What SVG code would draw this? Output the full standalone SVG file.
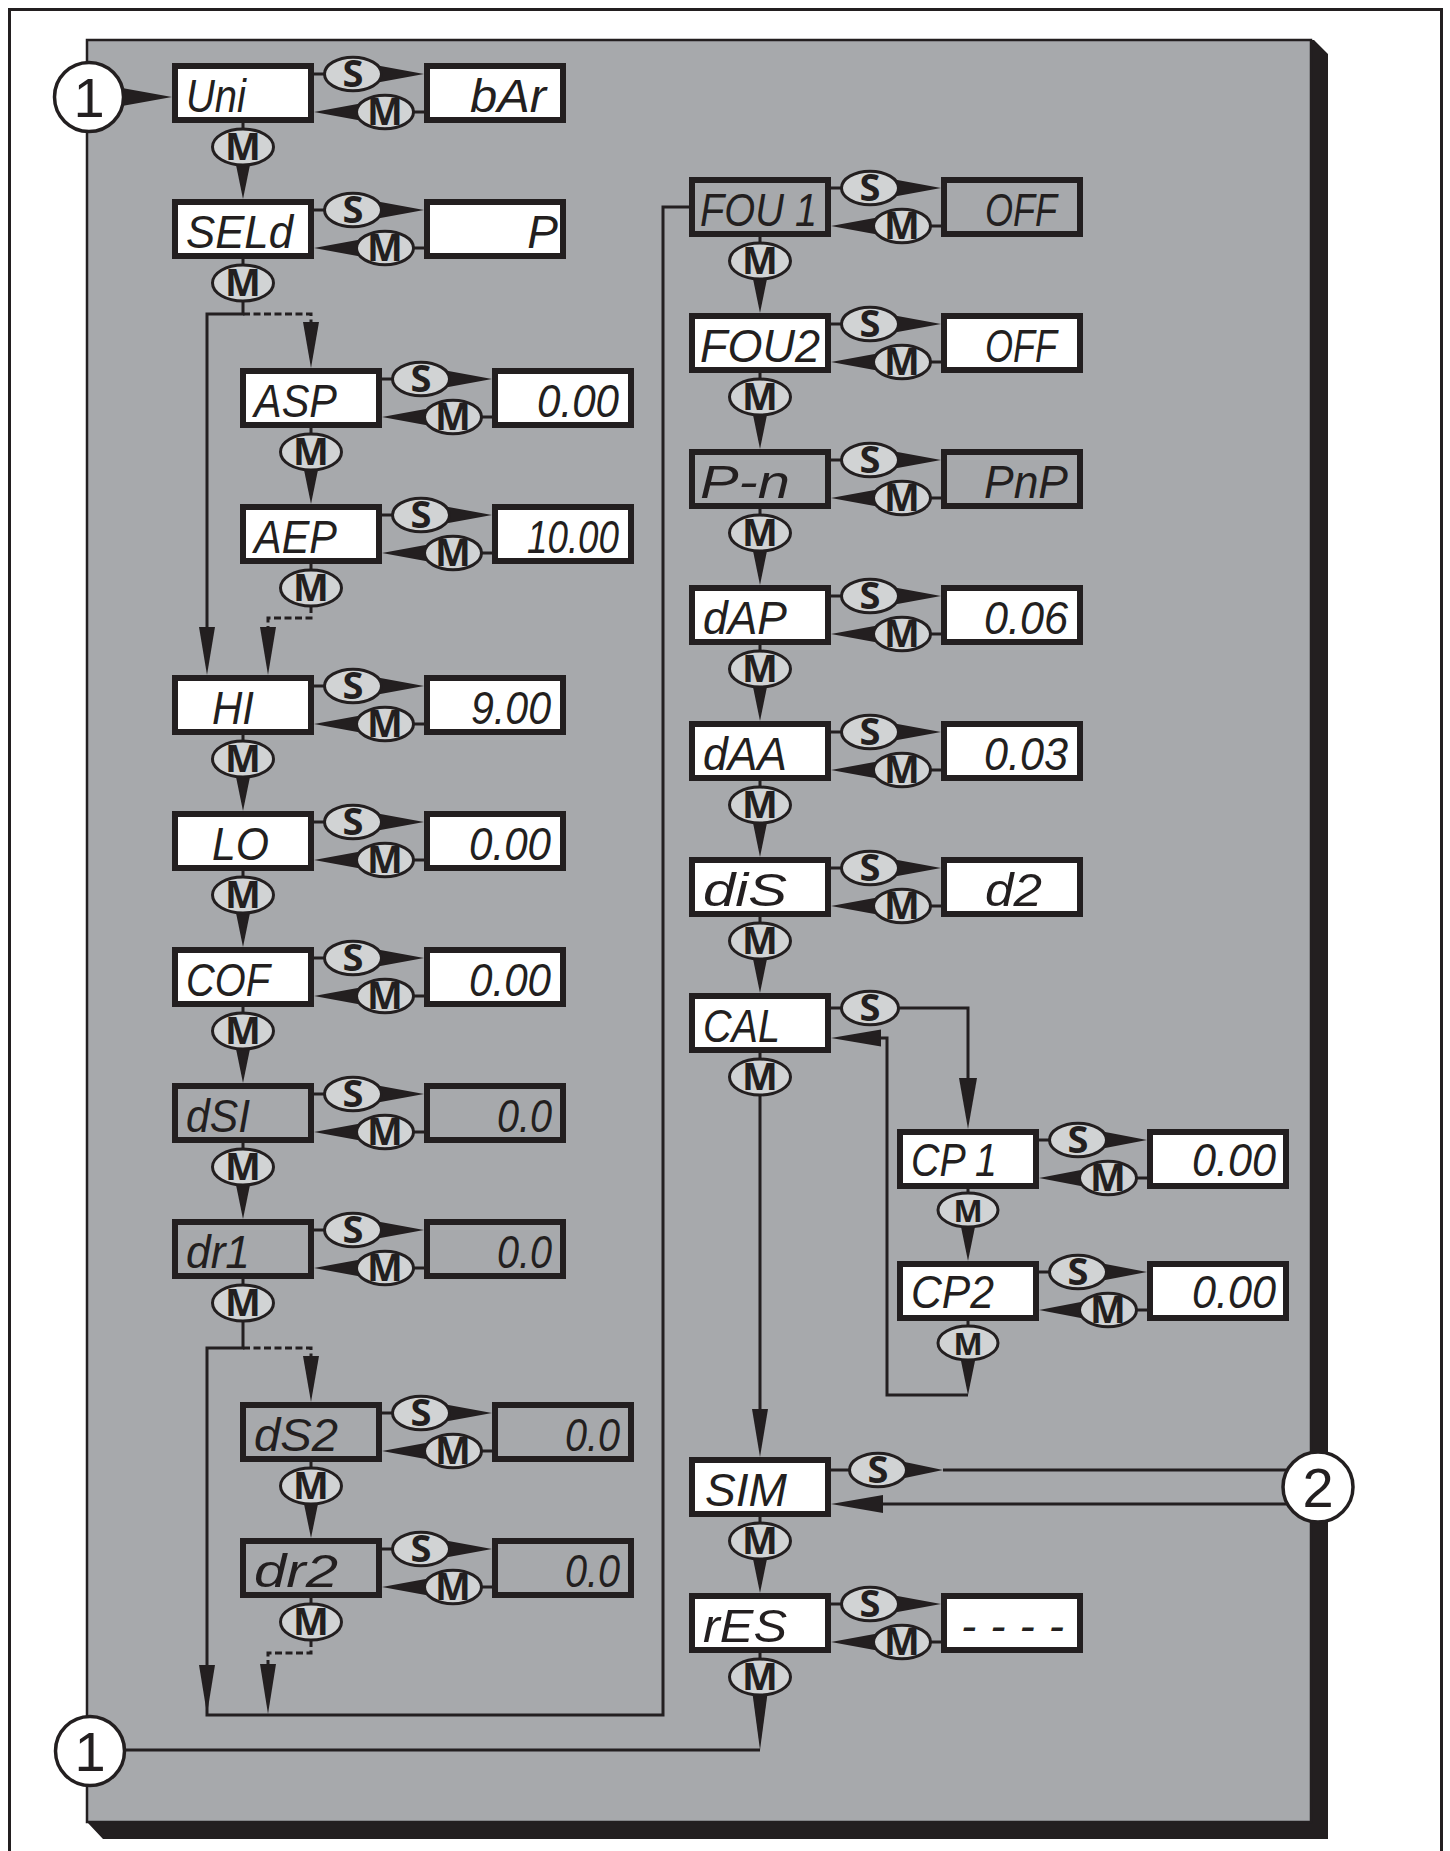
<svg xmlns="http://www.w3.org/2000/svg" width="1450" height="1851" viewBox="0 0 1450 1851">
<style>
.frame{fill:none;stroke:#231f20;stroke-width:3}
.panel{fill:#a7a9ac;stroke:#231f20;stroke-width:2.5}
.shadow{fill:#231f20}
.box{stroke:#231f20;stroke-width:6}
.w{fill:#ffffff}
.g{fill:#a7a9ac}
.disp{font-family:"Liberation Sans",Arial,sans-serif;font-style:italic;font-size:46px;fill:#231f20}
.val{text-anchor:end}
.ln{fill:none;stroke:#231f20;stroke-width:3}
.dot{stroke-dasharray:7 3.5}
.ar{fill:#231f20}
.btn{fill:#d1d3d4;stroke:#231f20;stroke-width:3}
.bt{font-family:"Open Sans","Liberation Sans",Arial,sans-serif;font-weight:700;font-size:38px;text-anchor:middle;fill:#231f20}
.bts{font-size:31px}
.circ{fill:#ffffff;stroke:#231f20;stroke-width:3.5}
.num{font-family:"Liberation Sans",Arial,sans-serif;font-size:56px;text-anchor:middle;fill:#231f20}
</style>

<rect class="frame" x="9.5" y="9.5" width="1432" height="1870"/>
<polygon class="shadow" points="1311,40 1314,40 1328,54 1328,1839 103,1839 87,1822 1311,1822"/>
<rect class="panel" x="87" y="40" width="1224" height="1782"/>

<g id="connectors">
  <polygon class="ar" points="122,88 122,106 172,97"/>
  <path class="ln" d="M314,74H353M385,112H424M314,210H353M385,248H424M314,686H353M385,724H424M314,822H353M385,860H424M314,958H353M385,996H424M314,1094H353M385,1132H424M314,1230H353M385,1268H424"/>
  <polygon class="ar" points="375,65 375,83 424,74"/><polygon class="ar" points="363,103 363,121 314,112"/>
  <polygon class="ar" points="375,201 375,219 424,210"/><polygon class="ar" points="363,239 363,257 314,248"/>
  <polygon class="ar" points="375,677 375,695 424,686"/><polygon class="ar" points="363,715 363,733 314,724"/>
  <polygon class="ar" points="375,813 375,831 424,822"/><polygon class="ar" points="363,851 363,869 314,860"/>
  <polygon class="ar" points="375,949 375,967 424,958"/><polygon class="ar" points="363,987 363,1005 314,996"/>
  <polygon class="ar" points="375,1085 375,1103 424,1094"/><polygon class="ar" points="363,1123 363,1141 314,1132"/>
  <polygon class="ar" points="375,1221 375,1239 424,1230"/><polygon class="ar" points="363,1259 363,1277 314,1268"/>
  <path class="ln" d="M382,379H421M453,417H492M382,515H421M453,553H492M382,1413H421M453,1451H492M382,1549H421M453,1587H492"/>
  <polygon class="ar" points="443,370 443,388 492,379"/><polygon class="ar" points="431,408 431,426 382,417"/>
  <polygon class="ar" points="443,506 443,524 492,515"/><polygon class="ar" points="431,544 431,562 382,553"/>
  <polygon class="ar" points="443,1404 443,1422 492,1413"/><polygon class="ar" points="431,1442 431,1460 382,1451"/>
  <polygon class="ar" points="443,1540 443,1558 492,1549"/><polygon class="ar" points="431,1578 431,1596 382,1587"/>
  <path class="ln" d="M831,188H870M902,226H941M831,324H870M902,362H941M831,460H870M902,498H941M831,596H870M902,634H941M831,732H870M902,770H941M831,868H870M902,906H941M831,1604H870M902,1642H941"/>
  <polygon class="ar" points="892,179 892,197 941,188"/><polygon class="ar" points="880,217 880,235 831,226"/>
  <polygon class="ar" points="892,315 892,333 941,324"/><polygon class="ar" points="880,353 880,371 831,362"/>
  <polygon class="ar" points="892,451 892,469 941,460"/><polygon class="ar" points="880,489 880,507 831,498"/>
  <polygon class="ar" points="892,587 892,605 941,596"/><polygon class="ar" points="880,625 880,643 831,634"/>
  <polygon class="ar" points="892,723 892,741 941,732"/><polygon class="ar" points="880,761 880,779 831,770"/>
  <polygon class="ar" points="892,859 892,877 941,868"/><polygon class="ar" points="880,897 880,915 831,906"/>
  <polygon class="ar" points="892,1595 892,1613 941,1604"/><polygon class="ar" points="880,1633 880,1651 831,1642"/>
  <path class="ln" d="M1039,1140H1078M1108,1178H1147M1039,1272H1078M1108,1310H1147"/>
  <polygon class="ar" points="1100,1131 1100,1149 1147,1140"/><polygon class="ar" points="1086,1169 1086,1187 1039,1178"/>
  <polygon class="ar" points="1100,1263 1100,1281 1147,1272"/><polygon class="ar" points="1086,1301 1086,1319 1039,1310"/>

  <path class="ln" d="M243,123V147M243,735V759M243,871V895M243,1007V1031M243,1143V1167M311,428V452M311,1462V1486"/>
  <polygon class="ar" points="235,160 251,160 243,199"/>
  <polygon class="ar" points="235,772 251,772 243,811"/>
  <polygon class="ar" points="235,908 251,908 243,947"/>
  <polygon class="ar" points="235,1044 251,1044 243,1083"/>
  <polygon class="ar" points="235,1180 251,1180 243,1219"/>
  <polygon class="ar" points="303,465 319,465 311,504"/>
  <polygon class="ar" points="303,1499 319,1499 311,1538"/>
  <path class="ln" d="M243,259V314H207V640"/>
  <polygon class="ar" points="199,627 215,627 207,675"/>
  <path class="ln dot" d="M243,314H311V326"/>
  <polygon class="ar" points="303,322 319,322 311,368"/>
  <path class="ln" d="M311,564V606"/>
  <path class="ln dot" d="M311,606V618H268V630"/>
  <polygon class="ar" points="260,627 276,627 268,675"/>
  <path class="ln" d="M243,1279V1348H207V1715H663V207H689"/>
  <polygon class="ar" points="199,1665 215,1665 207,1714"/>
  <path class="ln dot" d="M243,1348H311V1360"/>
  <polygon class="ar" points="303,1356 319,1356 311,1402"/>
  <path class="ln" d="M311,1598V1640"/>
  <path class="ln dot" d="M311,1640V1653H268V1666"/>
  <polygon class="ar" points="260,1664 276,1664 268,1714"/>

  <path class="ln" d="M760,237V261M760,373V397M760,509V533M760,645V669M760,781V805M760,917V941M760,1053V1420M760,1517V1541M760,1653V1677"/>
  <polygon class="ar" points="752,274 768,274 760,313"/>
  <polygon class="ar" points="752,410 768,410 760,449"/>
  <polygon class="ar" points="752,546 768,546 760,585"/>
  <polygon class="ar" points="752,682 768,682 760,721"/>
  <polygon class="ar" points="752,818 768,818 760,857"/>
  <polygon class="ar" points="752,954 768,954 760,993"/>
  <polygon class="ar" points="752,1409 768,1409 760,1457"/>
  <polygon class="ar" points="752,1554 768,1554 760,1593"/>
  <polygon class="ar" points="752,1690 768,1690 760,1750"/>
  <path class="ln" d="M100,1750H760"/>

  <path class="ln" d="M831,1008H870M870,1008H968V1085"/>
  <polygon class="ar" points="959,1078 977,1078 968,1129"/>
  <path class="ln" d="M968,1189V1210"/>
  <polygon class="ar" points="960,1222 976,1222 968,1261"/>
  <path class="ln" d="M968,1321V1343"/>
  <polygon class="ar" points="960,1356 976,1356 968,1395"/>
  <path class="ln" d="M968,1395H887V1038H878"/>
  <polygon class="ar" points="881,1029.5 881,1046.5 831,1038"/>

  <path class="ln" d="M831,1470H878M943,1470H1300M1300,1504H878"/>
  <polygon class="ar" points="900,1461 900,1479 943,1470"/>
  <polygon class="ar" points="883,1495 883,1513 831,1504"/>
</g>

<g id="nodes">
  <g id="n-uni"><rect class="box w" x="175" y="66" width="136" height="54"/><text class="disp" x="186" y="112" textLength="60" lengthAdjust="spacingAndGlyphs">Uni</text></g>
  <g id="v-uni"><rect class="box w" x="427" y="66" width="136" height="54"/><text class="disp val" x="546" y="112" textLength="76" lengthAdjust="spacingAndGlyphs">bAr</text></g>
  <g id="n-seld"><rect class="box w" x="175" y="202" width="136" height="54"/><text class="disp" x="186" y="248" textLength="107" lengthAdjust="spacingAndGlyphs">SELd</text></g>
  <g id="v-seld"><rect class="box w" x="427" y="202" width="136" height="54"/><text class="disp val" x="558" y="248">P</text></g>
  <g id="n-asp"><rect class="box w" x="243" y="371" width="136" height="54"/><text class="disp" x="254" y="417" textLength="83" lengthAdjust="spacingAndGlyphs">ASP</text></g>
  <g id="v-asp"><rect class="box w" x="495" y="371" width="136" height="54"/><text class="disp val" x="619" y="417" textLength="82" lengthAdjust="spacingAndGlyphs">0.00</text></g>
  <g id="n-aep"><rect class="box w" x="243" y="507" width="136" height="54"/><text class="disp" x="254" y="553" textLength="83" lengthAdjust="spacingAndGlyphs">AEP</text></g>
  <g id="v-aep"><rect class="box w" x="495" y="507" width="136" height="54"/><text class="disp val" x="619" y="553" textLength="92" lengthAdjust="spacingAndGlyphs">10.00</text></g>
  <g id="n-hi"><rect class="box w" x="175" y="678" width="136" height="54"/><text class="disp" x="212" y="724" textLength="42" lengthAdjust="spacingAndGlyphs">HI</text></g>
  <g id="v-hi"><rect class="box w" x="427" y="678" width="136" height="54"/><text class="disp val" x="551" y="724" textLength="80" lengthAdjust="spacingAndGlyphs">9.00</text></g>
  <g id="n-lo"><rect class="box w" x="175" y="814" width="136" height="54"/><text class="disp" x="212" y="860" textLength="57" lengthAdjust="spacingAndGlyphs">LO</text></g>
  <g id="v-lo"><rect class="box w" x="427" y="814" width="136" height="54"/><text class="disp val" x="551" y="860" textLength="82" lengthAdjust="spacingAndGlyphs">0.00</text></g>
  <g id="n-cof"><rect class="box w" x="175" y="950" width="136" height="54"/><text class="disp" x="186" y="996" textLength="84" lengthAdjust="spacingAndGlyphs">COF</text></g>
  <g id="v-cof"><rect class="box w" x="427" y="950" width="136" height="54"/><text class="disp val" x="551" y="996" textLength="82" lengthAdjust="spacingAndGlyphs">0.00</text></g>
  <g id="n-ds1"><rect class="box g" x="175" y="1086" width="136" height="54"/><text class="disp" x="186" y="1132" textLength="64" lengthAdjust="spacingAndGlyphs">dSI</text></g>
  <g id="v-ds1"><rect class="box g" x="427" y="1086" width="136" height="54"/><text class="disp val" x="552" y="1132" textLength="55" lengthAdjust="spacingAndGlyphs">0.0</text></g>
  <g id="n-dr1"><rect class="box g" x="175" y="1222" width="136" height="54"/><text class="disp" x="186" y="1268" textLength="64" lengthAdjust="spacingAndGlyphs">dr1</text></g>
  <g id="v-dr1"><rect class="box g" x="427" y="1222" width="136" height="54"/><text class="disp val" x="552" y="1268" textLength="55" lengthAdjust="spacingAndGlyphs">0.0</text></g>
  <g id="n-ds2"><rect class="box g" x="243" y="1405" width="136" height="54"/><text class="disp" x="254" y="1451" textLength="84" lengthAdjust="spacingAndGlyphs">dS2</text></g>
  <g id="v-ds2"><rect class="box g" x="495" y="1405" width="136" height="54"/><text class="disp val" x="620" y="1451" textLength="55" lengthAdjust="spacingAndGlyphs">0.0</text></g>
  <g id="n-dr2"><rect class="box g" x="243" y="1541" width="136" height="54"/><text class="disp" x="254" y="1587" textLength="84" lengthAdjust="spacingAndGlyphs">dr2</text></g>
  <g id="v-dr2"><rect class="box g" x="495" y="1541" width="136" height="54"/><text class="disp val" x="620" y="1587" textLength="55" lengthAdjust="spacingAndGlyphs">0.0</text></g>

  <g id="n-fou1"><rect class="box g" x="692" y="180" width="136" height="54"/><text class="disp" x="700" y="226" textLength="117" lengthAdjust="spacingAndGlyphs">FOU 1</text></g>
  <g id="v-fou1"><rect class="box g" x="944" y="180" width="136" height="54"/><text class="disp val" x="1057" y="226" textLength="72" lengthAdjust="spacingAndGlyphs">OFF</text></g>
  <g id="n-fou2"><rect class="box w" x="692" y="316" width="136" height="54"/><text class="disp" x="700" y="362" textLength="120" lengthAdjust="spacingAndGlyphs">FOU2</text></g>
  <g id="v-fou2"><rect class="box w" x="944" y="316" width="136" height="54"/><text class="disp val" x="1057" y="362" textLength="72" lengthAdjust="spacingAndGlyphs">OFF</text></g>
  <g id="n-pn"><rect class="box g" x="692" y="452" width="136" height="54"/><text class="disp" x="700" y="498" textLength="90" lengthAdjust="spacingAndGlyphs">P-n</text></g>
  <g id="v-pn"><rect class="box g" x="944" y="452" width="136" height="54"/><text class="disp val" x="1068" y="498" textLength="84" lengthAdjust="spacingAndGlyphs">PnP</text></g>
  <g id="n-dap"><rect class="box w" x="692" y="588" width="136" height="54"/><text class="disp" x="703" y="634" textLength="84" lengthAdjust="spacingAndGlyphs">dAP</text></g>
  <g id="v-dap"><rect class="box w" x="944" y="588" width="136" height="54"/><text class="disp val" x="1068" y="634" textLength="84" lengthAdjust="spacingAndGlyphs">0.06</text></g>
  <g id="n-daa"><rect class="box w" x="692" y="724" width="136" height="54"/><text class="disp" x="703" y="770" textLength="84" lengthAdjust="spacingAndGlyphs">dAA</text></g>
  <g id="v-daa"><rect class="box w" x="944" y="724" width="136" height="54"/><text class="disp val" x="1068" y="770" textLength="84" lengthAdjust="spacingAndGlyphs">0.03</text></g>
  <g id="n-dis"><rect class="box w" x="692" y="860" width="136" height="54"/><text class="disp" x="703" y="906" textLength="84" lengthAdjust="spacingAndGlyphs">diS</text></g>
  <g id="v-dis"><rect class="box w" x="944" y="860" width="136" height="54"/><text class="disp val" x="1042" y="906" textLength="57" lengthAdjust="spacingAndGlyphs">d2</text></g>
  <g id="n-cal"><rect class="box w" x="692" y="996" width="136" height="54"/><text class="disp" x="703" y="1042" textLength="77" lengthAdjust="spacingAndGlyphs">CAL</text></g>
  <g id="n-cp1"><rect class="box w" x="900" y="1132" width="136" height="54"/><text class="disp" x="911" y="1176" textLength="86" lengthAdjust="spacingAndGlyphs">CP 1</text></g>
  <g id="v-cp1"><rect class="box w" x="1150" y="1132" width="136" height="54"/><text class="disp val" x="1276" y="1176" textLength="84" lengthAdjust="spacingAndGlyphs">0.00</text></g>
  <g id="n-cp2"><rect class="box w" x="900" y="1264" width="136" height="54"/><text class="disp" x="911" y="1308" textLength="83" lengthAdjust="spacingAndGlyphs">CP2</text></g>
  <g id="v-cp2"><rect class="box w" x="1150" y="1264" width="136" height="54"/><text class="disp val" x="1276" y="1308" textLength="84" lengthAdjust="spacingAndGlyphs">0.00</text></g>
  <g id="n-sim"><rect class="box w" x="692" y="1460" width="136" height="54"/><text class="disp" x="705" y="1506" textLength="82" lengthAdjust="spacingAndGlyphs">SIM</text></g>
  <g id="n-res"><rect class="box w" x="692" y="1596" width="136" height="54"/><text class="disp" x="703" y="1642" textLength="84" lengthAdjust="spacingAndGlyphs">rES</text></g>
  <g id="v-res"><rect class="box w" x="944" y="1596" width="136" height="54"/><text class="disp val" x="1064" y="1642" textLength="103" lengthAdjust="spacing">----</text></g>
</g>

<g id="buttons">
  <g><ellipse class="btn" cx="353" cy="74" rx="28.5" ry="16.8"/><text class="bt" x="353" y="87">S</text><ellipse class="btn" cx="385" cy="112" rx="28.5" ry="16.8"/><text class="bt" x="385" y="125">M</text></g>
  <g><ellipse class="btn" cx="353" cy="210" rx="28.5" ry="16.8"/><text class="bt" x="353" y="223">S</text><ellipse class="btn" cx="385" cy="248" rx="28.5" ry="16.8"/><text class="bt" x="385" y="261">M</text></g>
  <g><ellipse class="btn" cx="353" cy="686" rx="28.5" ry="16.8"/><text class="bt" x="353" y="699">S</text><ellipse class="btn" cx="385" cy="724" rx="28.5" ry="16.8"/><text class="bt" x="385" y="737">M</text></g>
  <g><ellipse class="btn" cx="353" cy="822" rx="28.5" ry="16.8"/><text class="bt" x="353" y="835">S</text><ellipse class="btn" cx="385" cy="860" rx="28.5" ry="16.8"/><text class="bt" x="385" y="873">M</text></g>
  <g><ellipse class="btn" cx="353" cy="958" rx="28.5" ry="16.8"/><text class="bt" x="353" y="971">S</text><ellipse class="btn" cx="385" cy="996" rx="28.5" ry="16.8"/><text class="bt" x="385" y="1009">M</text></g>
  <g><ellipse class="btn" cx="353" cy="1094" rx="28.5" ry="16.8"/><text class="bt" x="353" y="1107">S</text><ellipse class="btn" cx="385" cy="1132" rx="28.5" ry="16.8"/><text class="bt" x="385" y="1145">M</text></g>
  <g><ellipse class="btn" cx="353" cy="1230" rx="28.5" ry="16.8"/><text class="bt" x="353" y="1243">S</text><ellipse class="btn" cx="385" cy="1268" rx="28.5" ry="16.8"/><text class="bt" x="385" y="1281">M</text></g>
  <g><ellipse class="btn" cx="421" cy="379" rx="28.5" ry="16.8"/><text class="bt" x="421" y="392">S</text><ellipse class="btn" cx="453" cy="417" rx="28.5" ry="16.8"/><text class="bt" x="453" y="430">M</text></g>
  <g><ellipse class="btn" cx="421" cy="515" rx="28.5" ry="16.8"/><text class="bt" x="421" y="528">S</text><ellipse class="btn" cx="453" cy="553" rx="28.5" ry="16.8"/><text class="bt" x="453" y="566">M</text></g>
  <g><ellipse class="btn" cx="421" cy="1413" rx="28.5" ry="16.8"/><text class="bt" x="421" y="1426">S</text><ellipse class="btn" cx="453" cy="1451" rx="28.5" ry="16.8"/><text class="bt" x="453" y="1464">M</text></g>
  <g><ellipse class="btn" cx="421" cy="1549" rx="28.5" ry="16.8"/><text class="bt" x="421" y="1562">S</text><ellipse class="btn" cx="453" cy="1587" rx="28.5" ry="16.8"/><text class="bt" x="453" y="1600">M</text></g>
  <g><ellipse class="btn" cx="870" cy="188" rx="28.5" ry="16.8"/><text class="bt" x="870" y="201">S</text><ellipse class="btn" cx="902" cy="226" rx="28.5" ry="16.8"/><text class="bt" x="902" y="239">M</text></g>
  <g><ellipse class="btn" cx="870" cy="324" rx="28.5" ry="16.8"/><text class="bt" x="870" y="337">S</text><ellipse class="btn" cx="902" cy="362" rx="28.5" ry="16.8"/><text class="bt" x="902" y="375">M</text></g>
  <g><ellipse class="btn" cx="870" cy="460" rx="28.5" ry="16.8"/><text class="bt" x="870" y="473">S</text><ellipse class="btn" cx="902" cy="498" rx="28.5" ry="16.8"/><text class="bt" x="902" y="511">M</text></g>
  <g><ellipse class="btn" cx="870" cy="596" rx="28.5" ry="16.8"/><text class="bt" x="870" y="609">S</text><ellipse class="btn" cx="902" cy="634" rx="28.5" ry="16.8"/><text class="bt" x="902" y="647">M</text></g>
  <g><ellipse class="btn" cx="870" cy="732" rx="28.5" ry="16.8"/><text class="bt" x="870" y="745">S</text><ellipse class="btn" cx="902" cy="770" rx="28.5" ry="16.8"/><text class="bt" x="902" y="783">M</text></g>
  <g><ellipse class="btn" cx="870" cy="868" rx="28.5" ry="16.8"/><text class="bt" x="870" y="881">S</text><ellipse class="btn" cx="902" cy="906" rx="28.5" ry="16.8"/><text class="bt" x="902" y="919">M</text></g>
  <g><ellipse class="btn" cx="870" cy="1008" rx="28.5" ry="16.8"/><text class="bt" x="870" y="1021">S</text></g>
  <g><ellipse class="btn" cx="878" cy="1470" rx="28.5" ry="16.8"/><text class="bt" x="878" y="1483">S</text></g>
  <g><ellipse class="btn" cx="870" cy="1604" rx="28.5" ry="16.8"/><text class="bt" x="870" y="1617">S</text><ellipse class="btn" cx="902" cy="1642" rx="28.5" ry="16.8"/><text class="bt" x="902" y="1655">M</text></g>
  <g><ellipse class="btn" cx="1078" cy="1140" rx="28.5" ry="16.8"/><text class="bt" x="1078" y="1153">S</text><ellipse class="btn" cx="1108" cy="1178" rx="28.5" ry="16.8"/><text class="bt" x="1108" y="1191">M</text></g>
  <g><ellipse class="btn" cx="1078" cy="1272" rx="28.5" ry="16.8"/><text class="bt" x="1078" y="1285">S</text><ellipse class="btn" cx="1108" cy="1310" rx="28.5" ry="16.8"/><text class="bt" x="1108" y="1323">M</text></g>
  <g><ellipse class="btn" cx="243" cy="147" rx="30.5" ry="18"/><text class="bt" x="243" y="160">M</text></g>
  <g><ellipse class="btn" cx="243" cy="283" rx="30.5" ry="18"/><text class="bt" x="243" y="296">M</text></g>
  <g><ellipse class="btn" cx="311" cy="452" rx="30.5" ry="18"/><text class="bt" x="311" y="465">M</text></g>
  <g><ellipse class="btn" cx="311" cy="588" rx="30.5" ry="18"/><text class="bt" x="311" y="601">M</text></g>
  <g><ellipse class="btn" cx="243" cy="759" rx="30.5" ry="18"/><text class="bt" x="243" y="772">M</text></g>
  <g><ellipse class="btn" cx="243" cy="895" rx="30.5" ry="18"/><text class="bt" x="243" y="908">M</text></g>
  <g><ellipse class="btn" cx="243" cy="1031" rx="30.5" ry="18"/><text class="bt" x="243" y="1044">M</text></g>
  <g><ellipse class="btn" cx="243" cy="1167" rx="30.5" ry="18"/><text class="bt" x="243" y="1180">M</text></g>
  <g><ellipse class="btn" cx="243" cy="1303" rx="30.5" ry="18"/><text class="bt" x="243" y="1316">M</text></g>
  <g><ellipse class="btn" cx="311" cy="1486" rx="30.5" ry="18"/><text class="bt" x="311" y="1499">M</text></g>
  <g><ellipse class="btn" cx="311" cy="1622" rx="30.5" ry="18"/><text class="bt" x="311" y="1635">M</text></g>
  <g><ellipse class="btn" cx="760" cy="261" rx="30.5" ry="18"/><text class="bt" x="760" y="274">M</text></g>
  <g><ellipse class="btn" cx="760" cy="397" rx="30.5" ry="18"/><text class="bt" x="760" y="410">M</text></g>
  <g><ellipse class="btn" cx="760" cy="533" rx="30.5" ry="18"/><text class="bt" x="760" y="546">M</text></g>
  <g><ellipse class="btn" cx="760" cy="669" rx="30.5" ry="18"/><text class="bt" x="760" y="682">M</text></g>
  <g><ellipse class="btn" cx="760" cy="805" rx="30.5" ry="18"/><text class="bt" x="760" y="818">M</text></g>
  <g><ellipse class="btn" cx="760" cy="941" rx="30.5" ry="18"/><text class="bt" x="760" y="954">M</text></g>
  <g><ellipse class="btn" cx="760" cy="1077" rx="30.5" ry="18"/><text class="bt" x="760" y="1090">M</text></g>
  <g><ellipse class="btn" cx="760" cy="1541" rx="30.5" ry="18"/><text class="bt" x="760" y="1554">M</text></g>
  <g><ellipse class="btn" cx="760" cy="1677" rx="30.5" ry="18"/><text class="bt" x="760" y="1690">M</text></g>
  <g><ellipse class="btn" cx="968" cy="1210" rx="30" ry="17"/><text class="bt bts" x="968" y="1222">M</text></g>
  <g><ellipse class="btn" cx="968" cy="1343" rx="30" ry="17"/><text class="bt bts" x="968" y="1355">M</text></g>
</g>

<g id="markers">
  <g id="c1-top"><circle class="circ" cx="89" cy="97" r="34.5"/><text class="num" x="89" y="117">1</text></g>
  <g id="c1-bottom"><circle class="circ" cx="90" cy="1751" r="34.5"/><text class="num" x="90" y="1771">1</text></g>
  <g id="c2"><circle class="circ" cx="1318" cy="1487" r="35"/><text class="num" x="1318" y="1507">2</text></g>
</g>
</svg>
